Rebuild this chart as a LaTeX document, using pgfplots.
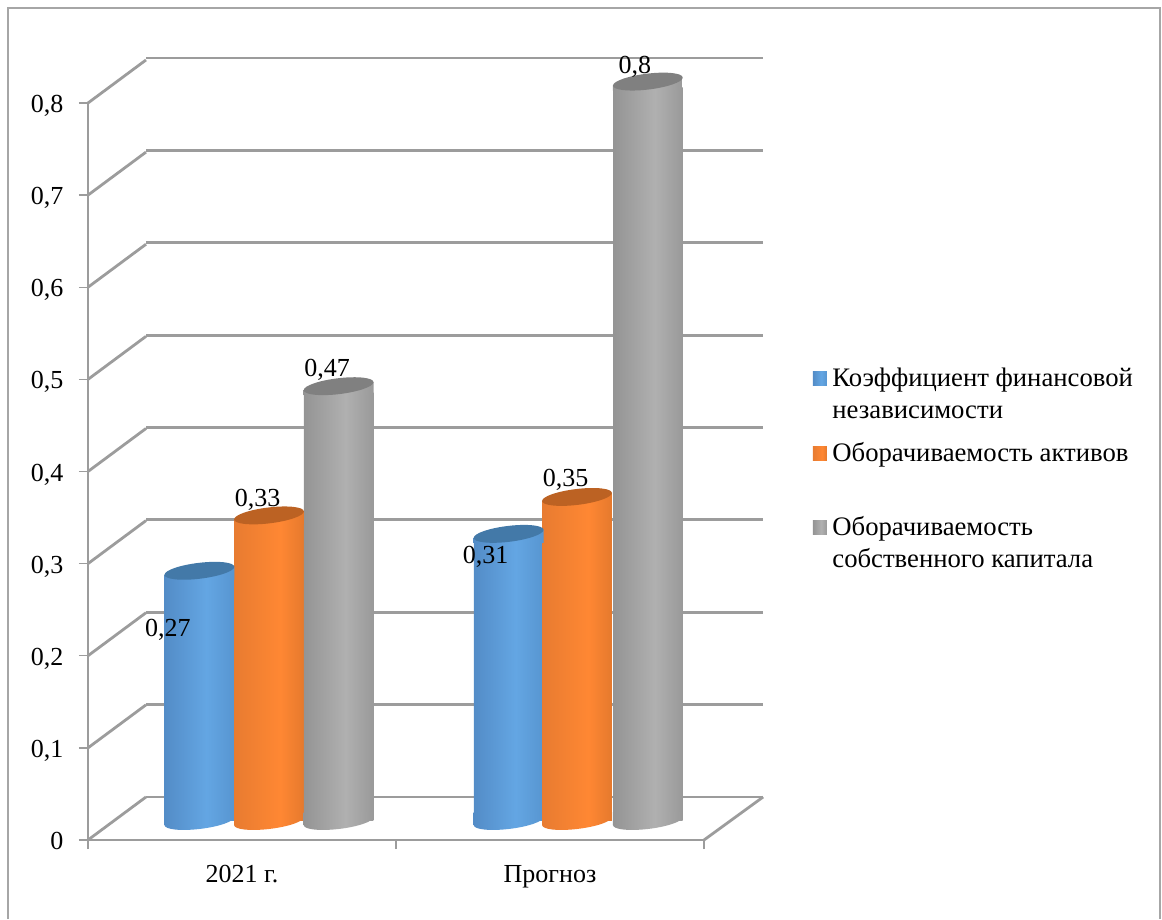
\documentclass[border=0pt]{standalone}
\usepackage{fontspec}
\setmainfont{Liberation Serif}
\usepackage{pgfplots}
\usepackage{pgfplotstable}
\pgfplotsset{compat=1.18}

\definecolor{wall}{HTML}{9C9C9C}
\definecolor{framegray}{HTML}{A6A6A6}
\definecolor{legblue}{HTML}{5B9BD5}
\definecolor{legorange}{HTML}{ED7D31}
\definecolor{leggray}{HTML}{A5A5A5}
\definecolor{bluetop}{HTML}{4379A8}
\definecolor{orangetop}{HTML}{BC6223}
\definecolor{graytop}{HTML}{808080}

\newcommand\lblfont{\fontsize{26}{30}\selectfont}

% horizontal shadings of the cylinders
\pgfdeclarehorizontalshading{cylblue}{100bp}{
  rgb(0bp)=(0.22,0.40,0.58); rgb(22bp)=(0.32,0.54,0.77); rgb(55bp)=(0.39,0.65,0.89); rgb(80bp)=(0.33,0.57,0.80); rgb(100bp)=(0.25,0.45,0.66)}
\pgfdeclarehorizontalshading{cylorange}{100bp}{
  rgb(0bp)=(0.58,0.30,0.12); rgb(22bp)=(0.90,0.48,0.19); rgb(58bp)=(1.00,0.53,0.20); rgb(80bp)=(0.87,0.46,0.17); rgb(100bp)=(0.68,0.36,0.14)}
\pgfdeclarehorizontalshading{cylgray}{100bp}{
  rgb(0bp)=(0.36,0.36,0.36); rgb(22bp)=(0.57,0.57,0.57); rgb(55bp)=(0.69,0.69,0.69); rgb(80bp)=(0.58,0.58,0.58); rgb(100bp)=(0.40,0.40,0.40)}

% caps and feet of the cylinders
\newcommand\cylmarks[1]{%
  \pgfdeclareplotmark{top#1}{%
    \pgfpathmoveto{\pgfqpoint{-34.9pt}{2pt}}%
    \pgfpathlineto{\pgfqpoint{34.9pt}{10pt}}%
    \pgfpathlineto{\pgfqpoint{34.9pt}{-3pt}}%
    \pgfpathlineto{\pgfqpoint{-34.9pt}{-3pt}}%
    \pgfpathclose
    \pgfshadepath{cyl#1}{0}\pgfusepath{discard}%
    \pgfsetfillcolor{#1top}%
    \pgfpathellipse{\pgfqpoint{0pt}{6pt}}{\pgfqpoint{34.9pt}{4pt}}{\pgfqpoint{0pt}{8pt}}%
    \pgfusepath{fill}}%
  \pgfdeclareplotmark{foot#1}{%
    \pgfpathellipse{\pgfqpoint{0pt}{5pt}}{\pgfqpoint{34.9pt}{4pt}}{\pgfqpoint{0pt}{8pt}}%
    \pgfshadepath{cyl#1}{0}\pgfusepath{discard}%
    \pgfpathmoveto{\pgfqpoint{-34.9pt}{1pt}}%
    \pgfpathlineto{\pgfqpoint{-34.9pt}{14pt}}%
    \pgfpathlineto{\pgfqpoint{34.9pt}{14pt}}%
    \pgfpathlineto{\pgfqpoint{34.9pt}{9pt}}%
    \pgfpathclose
    \pgfshadepath{cyl#1}{0}\pgfusepath{discard}}}
\cylmarks{blue}
\cylmarks{orange}
\cylmarks{gray}

\pgfplotstableread{
x     v    base dx    dy
0.274 0.27 0    -31.5 -53
1.278 0.31 0    -23   -17
}\seriesblue
\pgfplotstableread{
x     v    base dx    dy
0.5   0.33 0    -11.5 22
1.5   0.35 0    -11.5 23
}\seriesorange
\pgfplotstableread{
x     v    base dx    dy
0.726 0.47 0    -11.5 22
1.73  0.8  0    -13   20.6
}\seriesgray

\pgfplotsset{
  cyl foot/.style={forget plot,only marks,mark=foot#1},
  cyl bar/.style={ybar,bar width=69.5pt,bar shift=0pt,draw=none,shading=cyl#1,shading angle=0,mark=none},
  cyl top/.style={forget plot,only marks,mark=top#1,
    visualization depends on={\thisrow{dx} \as \labeldx},
    visualization depends on={\thisrow{dy} \as \labeldy},
    nodes near coords,
    every node near coord/.append style={anchor=center,inner sep=0pt,text=black,font=\lblfont,
      xshift=\labeldx pt,yshift=\labeldy pt,
      /pgf/number format/.cd,use comma,precision=2,assume math mode=true}},
  legend square/.style={legend image code/.code={\fill[#1] (0pt,1pt) rectangle (14pt,15pt); \path (19.5pt,1pt);}},
  first bar/.style={skip coords between index={1}{2}},
  second bar/.style={skip coords between index={0}{1}},
}

\begin{document}
\begin{tikzpicture}
\useasboundingbox (0pt,0pt) rectangle (1162pt,919pt);
\draw[framegray,line width=1.2pt] (8pt,0pt) -- (8pt,911pt) -- (1160pt,911pt) -- (1160pt,0pt);

% back wall with its gridlines
\begin{axis}[
  name=back,
  at={(146pt,122pt)},anchor=south west,
  scale only axis,width=617pt,height=739pt,
  xmin=0,xmax=2,ymin=0,ymax=0.8,
  axis line style={draw=none},
  xtick=\empty,
  ytick={0,0.1,...,0.8},yticklabels={},
  major tick length=0pt,
  ymajorgrids,
  grid style={wall,line width=2.8pt},
]
\end{axis}

% front axis: tick labels, walls' edges
\begin{axis}[
  at={(88pt,79pt)},anchor=south west,
  scale only axis,width=616pt,height=737pt,
  xmin=0,xmax=2,ymin=0,ymax=0.8,
  clip=false,
  axis x line*=bottom,axis y line*=left,
  axis line style={wall,line width=2.8pt,-},
  tick style={wall,line width=1.4pt},
  major tick length=9pt,
  tick align=outside,
  xtick={0,1,2},xticklabels={},
  extra x ticks={0.5,1.5},
  extra x tick labels={2021 г.,Прогноз},
  extra x tick style={major tick length=0pt,
    xticklabel style={yshift=-21.5pt}},
  ytick={0,0.1,...,0.8},
  yticklabel style={anchor=base east,xshift=-12pt,yshift=-9.6pt},
  tick label style={font=\lblfont,text=black},
  /pgf/number format/.cd,use comma,assume math mode=true,
]
\addplot[wall,line width=2.8pt,unbounded coords=jump,mark=none] coordinates {
  (0,0) (0.1883,0.0467) (0,nan)
  (0,0.1) (0.1883,0.1467) (0,nan)
  (0,0.2) (0.1883,0.2467) (0,nan)
  (0,0.3) (0.1883,0.3467) (0,nan)
  (0,0.4) (0.1883,0.4467) (0,nan)
  (0,0.5) (0.1883,0.5467) (0,nan)
  (0,0.6) (0.1883,0.6467) (0,nan)
  (0,0.7) (0.1883,0.7467) (0,nan)
  (0,0.8) (0.1883,0.8467) (0,nan)
  (2,0) (2.192,0.0467)
};
\end{axis}

% cylinders, half a depth behind the front axis
\begin{axis}[
  at={(115pt,99pt)},anchor=south west,
  scale only axis,width=616pt,height=732.4pt,
  xmin=0,xmax=2,ymin=0.0065,ymax=0.8,
  clip=false,
  hide x axis,hide y axis,
  legend style={
    at={(1.133,0.617)},anchor=north west,
    draw=none,fill=none,inner sep=0pt,outer sep=0pt,
    nodes={text depth=,inner sep=0pt},
    font=\fontsize{26.7}{32}\selectfont,
    cells={anchor=base west},
    row sep=0pt,
  },
]
\addplot[cyl foot=blue] table[x=x,y=base] {\seriesblue};
\addplot[cyl bar=blue,legend square=legblue,first bar] table[x=x,y=v] {\seriesblue};
\addlegendentry{\parbox[t][74pt][t]{325pt}{Коэффициент финансовой\\независимости}}
\addplot[cyl bar=blue,forget plot,second bar] table[x=x,y=v] {\seriesblue};
\addplot[cyl top=blue] table[x=x,y=v] {\seriesblue};

\addplot[cyl foot=orange] table[x=x,y=base] {\seriesorange};
\addplot[cyl bar=orange,legend square=legorange,first bar] table[x=x,y=v] {\seriesorange};
\addlegendentry{\parbox[t][74pt][t]{325pt}{Оборачиваемость активов}}
\addplot[cyl bar=orange,forget plot,second bar] table[x=x,y=v] {\seriesorange};
\addplot[cyl top=orange] table[x=x,y=v] {\seriesorange};

\addplot[cyl foot=gray] table[x=x,y=base] {\seriesgray};
\addplot[cyl bar=gray,legend square=leggray,first bar] table[x=x,y=v] {\seriesgray};
\addlegendentry{\parbox[t][74pt][t]{325pt}{Оборачиваемость\\собственного капитала}}
\addplot[cyl bar=gray,forget plot,second bar] table[x=x,y=v] {\seriesgray};
\addplot[cyl top=gray] table[x=x,y=v] {\seriesgray};
\end{axis}
\end{tikzpicture}
\end{document}
